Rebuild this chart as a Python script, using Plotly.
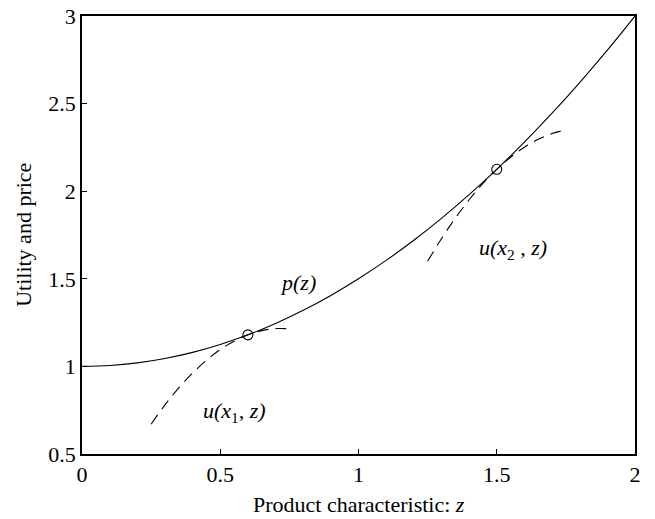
import plotly.graph_objects as go

# price schedule p(z)
z_p = [0.0, 0.1, 0.2, 0.3, 0.4, 0.5, 0.6, 0.7, 0.8, 0.9, 1.0,
       1.1, 1.2, 1.3, 1.4, 1.5, 1.6, 1.7, 1.8, 1.9, 2.0]
p_vals = [1.0, 1.005, 1.02, 1.045, 1.08, 1.125, 1.18, 1.245, 1.32, 1.405, 1.5,
          1.605, 1.72, 1.845, 1.98, 2.125, 2.28, 2.445, 2.62, 2.805, 3.0]

# indifference curve u(x1, z)
z_u1 = [0.25, 0.30, 0.35, 0.40, 0.45, 0.50, 0.55, 0.60, 0.65, 0.70, 0.75]
u1_vals = [0.670, 0.780, 0.877, 0.962, 1.035, 1.096, 1.144, 1.180, 1.204, 1.216, 1.215]

# indifference curve u(x2, z)
z_u2 = [1.25, 1.30, 1.35, 1.40, 1.45, 1.50, 1.55, 1.60, 1.65, 1.70, 1.75]
u2_vals = [1.600, 1.729, 1.846, 1.951, 2.044, 2.125, 2.194, 2.251, 2.296, 2.329, 2.350]

# tangency points
z_tan = [0.6, 1.5]
y_tan = [1.18, 2.125]

x_ticks = [0, 0.5, 1, 1.5, 2]
x_ticklabels = ["0", "0.5", "1", "1.5", "2"]
y_ticks = [0.5, 1, 1.5, 2, 2.5, 3]
y_ticklabels = ["0.5", "1", "1.5", "2", "2.5", "3"]

FONT = "Liberation Serif, Times New Roman, serif"
FS = 22

fig = go.Figure()
fig.add_trace(go.Scatter(x=z_p, y=p_vals, mode="lines", line=dict(color="black", width=1.1, shape="spline"),
                         showlegend=False, hoverinfo="skip"))
fig.add_trace(go.Scatter(x=z_u1, y=u1_vals, mode="lines",
                         line=dict(color="black", width=1.1, dash="11px,7px", shape="spline"),
                         showlegend=False, hoverinfo="skip"))
fig.add_trace(go.Scatter(x=z_u2, y=u2_vals, mode="lines",
                         line=dict(color="black", width=1.1, dash="11px,7px", shape="spline"),
                         showlegend=False, hoverinfo="skip"))
fig.add_trace(go.Scatter(x=z_tan, y=y_tan, mode="markers",
                         marker=dict(symbol="circle-open", size=10, color="black", line=dict(width=1.1)),
                         showlegend=False, hoverinfo="skip"))

ann_font = dict(family=FONT, size=FS, color="black")
fig.add_annotation(x=0.78, y=1.48, text="<i>p(z)</i>", showarrow=False, font=ann_font)
fig.add_annotation(x=0.55, y=0.74, text="<i>u(x</i><sub>1</sub><i>, z)</i>", showarrow=False, font=ann_font)
fig.add_annotation(x=1.56, y=1.67, text="<i>u(x</i><sub>2</sub><i> , z)</i>", showarrow=False, font=ann_font)

# axis titles placed as paper annotations
fig.add_annotation(x=0.5, y=-0.116, xref="paper", yref="paper", xanchor="center", yanchor="middle",
                   text="Product characteristic: <i>z</i>", showarrow=False, font=ann_font)
fig.add_annotation(x=-0.107, y=0.5, xref="paper", yref="paper", xanchor="center", yanchor="middle",
                   text="Utility and price", textangle=-90, showarrow=False, font=ann_font)

axis_common = dict(showgrid=False, zeroline=False, showline=True, linecolor="black", linewidth=1.5,
                   mirror=True, ticks="inside", ticklen=5, tickcolor="black", tickwidth=1,
                   tickfont=dict(family=FONT, size=FS, color="black"), automargin=False)

fig.update_xaxes(range=[0, 2], tickvals=x_ticks, ticktext=x_ticklabels, **axis_common)
fig.update_yaxes(range=[0.5, 3], tickvals=y_ticks, ticktext=y_ticklabels, **axis_common)

fig.update_layout(width=655, height=519, margin=dict(l=82, r=20, t=16, b=65),
                  plot_bgcolor="white", paper_bgcolor="white")

fig.write_html("out.html")
